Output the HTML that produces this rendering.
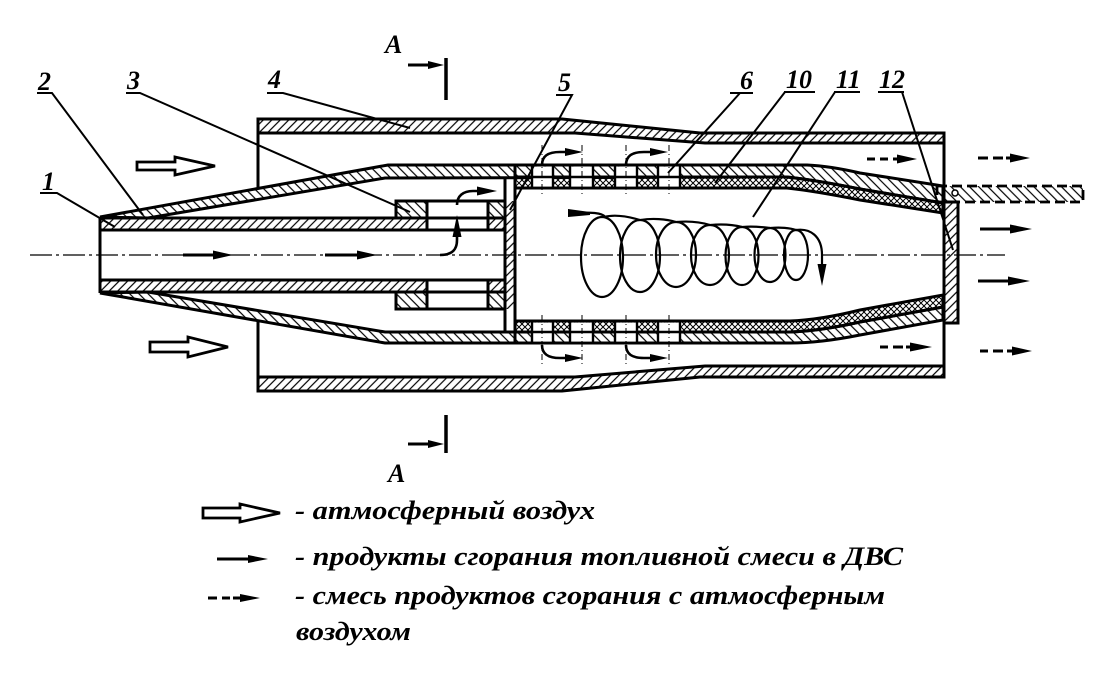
<!DOCTYPE html>
<html><head><meta charset="utf-8"><style>
html,body{margin:0;padding:0;background:#fff;}
svg{display:block}
text{font-family:"Liberation Serif","DejaVu Serif",serif;font-weight:bold;font-style:italic;fill:#000}
</style></head><body>
<svg width="1110" height="684" viewBox="0 0 1110 684" xmlns="http://www.w3.org/2000/svg">
<defs>
<pattern id="hf" patternUnits="userSpaceOnUse" width="6" height="6" patternTransform="rotate(45)"><line x1="1" y1="-1" x2="1" y2="7" stroke="#000" stroke-width="1.2"/></pattern>
<pattern id="hb" patternUnits="userSpaceOnUse" width="6.5" height="6.5" patternTransform="rotate(-45)"><line x1="1" y1="-1" x2="1" y2="8" stroke="#000" stroke-width="1.2"/></pattern>
<pattern id="cx" patternUnits="userSpaceOnUse" width="6" height="6"><path d="M0,0 L6,6 M6,0 L0,6" stroke="#000" stroke-width="1"/></pattern>
</defs>
<rect width="1110" height="684" fill="#fff"/>

<!-- axis -->
<line x1="30" y1="255" x2="1005" y2="255" stroke="#000" stroke-width="1.2" stroke-dasharray="22 4 3 4"/>

<!-- outer casing 4 -->
<path d="M258,119 L562,119 L700,133 L944,133 L944,143 L705,143 L575,133 L258,133 Z" fill="url(#hf)" stroke="#000" stroke-width="3"/>
<path d="M258,377 L575,377 L705,366 L944,366 L944,377 L700,377 L562,391 L258,391 Z" fill="url(#hf)" stroke="#000" stroke-width="3"/>
<line x1="258" y1="133" x2="258" y2="188" stroke="#000" stroke-width="3"/>
<line x1="258" y1="320" x2="258" y2="377" stroke="#000" stroke-width="3"/>

<!-- cone 2 + layer 6 -->
<path d="M100,217 L388,165 L807,165 Q830,166 860,173 L943,186 L943,203 L860,189 Q815,180 787,177 L385,178 L148,218 Z" fill="url(#hb)" stroke="#000" stroke-width="3"/>
<path d="M100,293 L385,343 L790,343 Q820,343 860,335 L943,320 L943,307 L860,322 Q820,331 790,332 L385,332 L148,292 Z" fill="url(#hb)" stroke="#000" stroke-width="3"/>
<!-- layer 10 crosshatch -->
<path d="M515,177 L787,177 Q815,180 860,189 L943,203 L943,213 L860,200 Q815,191 787,188 L515,188 Z" fill="url(#cx)" stroke="#000" stroke-width="3"/>
<path d="M515,321 L790,321 Q820,320 860,310 L943,295 L943,307 L860,322 Q820,331 790,332 L515,332 Z" fill="url(#cx)" stroke="#000" stroke-width="3"/>

<!-- holes -->
<g fill="#fff">
<rect x="532" y="166.6" width="21" height="20"/><rect x="570" y="166.6" width="23" height="20"/>
<rect x="615" y="166.6" width="22" height="20"/><rect x="658" y="166.6" width="22" height="20"/>
<rect x="532" y="322.6" width="21" height="19"/><rect x="570" y="322.6" width="23" height="19"/>
<rect x="615" y="322.6" width="22" height="19"/><rect x="658" y="322.6" width="22" height="19"/>
</g>
<g stroke="#000" stroke-width="2.4">
<line x1="515" y1="177" x2="690" y2="177"/><line x1="515" y1="332" x2="690" y2="332"/>
<path d="M532,165V188M553,165V188M570,165V188M593,165V188M615,165V188M637,165V188M658,165V188M680,165V188"/>
<path d="M532,321V343M553,321V343M570,321V343M593,321V343M615,321V343M637,321V343M658,321V343M680,321V343"/>
</g>
<g stroke="#000" stroke-width="1" stroke-dasharray="6 3 1 3">
<path d="M542,145V195M582,145V195M626,145V195M669,145V195"/>
<path d="M542,315V365M582,315V365M626,315V365M669,315V365"/>
</g>

<!-- tube 1 -->
<rect x="100" y="218" width="327" height="12" fill="url(#hf)"/>
<rect x="488" y="218" width="17" height="12" fill="url(#hf)"/>
<rect x="100" y="280" width="327" height="12" fill="url(#hf)"/>
<rect x="488" y="280" width="17" height="12" fill="url(#hf)"/>
<g stroke="#000" stroke-width="3" fill="none">
<line x1="100" y1="218" x2="505" y2="218"/><line x1="100" y1="230" x2="505" y2="230"/>
<line x1="100" y1="280" x2="505" y2="280"/><line x1="100" y1="292" x2="505" y2="292"/>
<line x1="100" y1="217" x2="100" y2="293"/>
<line x1="505" y1="230" x2="505" y2="280"/>
</g>
<!-- ring 3 -->
<rect x="396" y="201" width="31" height="17" fill="url(#hb)"/>
<rect x="488" y="201" width="17" height="17" fill="url(#hb)"/>
<rect x="396" y="292" width="31" height="17" fill="url(#hb)"/>
<rect x="488" y="292" width="17" height="17" fill="url(#hb)"/>
<g stroke="#000" stroke-width="3" fill="none">
<rect x="396" y="201" width="109" height="17"/>
<rect x="396" y="292" width="109" height="17"/>
<path d="M427,201V230M488,201V230M427,280V309M488,280V309"/>
</g>
<!-- part 5 -->
<rect x="505" y="201" width="10" height="108" fill="url(#hf)"/>
<g stroke="#000" stroke-width="3">
<line x1="505" y1="178" x2="505" y2="332"/>
<line x1="515" y1="165" x2="515" y2="343"/>
</g>

<!-- part 12 plate and end -->
<rect x="944" y="202" width="14" height="121" fill="url(#hf)" stroke="#000" stroke-width="3"/>
<line x1="944" y1="133" x2="944" y2="377" stroke="#000" stroke-width="3"/>
<rect x="937" y="186" width="146" height="16" fill="url(#hb)" stroke="#000" stroke-width="2.8" stroke-dasharray="10 5"/>
<circle cx="955" cy="193" r="3" fill="#fff" stroke="#000" stroke-width="1.5"/>

<!-- hollow air arrows -->
<g fill="#fff" stroke="#000" stroke-width="2.8">
<path d="M137,162 L175,162 L175,157 L215,166 L175,175 L175,170 L137,170 Z"/>
<path d="M150,342 L188,342 L188,337 L228,347 L188,357 L188,352 L150,352 Z"/>
<path d="M203,508 L240,508 L240,504 L280,513 L240,522 L240,518 L203,518 Z"/>
</g>

<!-- solid arrows -->
<g stroke="#000" stroke-width="3" fill="none">
<line x1="183" y1="255" x2="215" y2="255"/>
<line x1="325" y1="255" x2="359" y2="255"/>
<line x1="980" y1="229" x2="1012" y2="229"/>
<line x1="978" y1="281" x2="1010" y2="281"/>
<line x1="217" y1="559" x2="250" y2="559"/>
</g>
<g fill="#000">
<path d="M213,250.5 L233,255 L213,259.5 Z"/>
<path d="M357,250.5 L377,255 L357,259.5 Z"/>
<path d="M1010,224.5 L1032,229 L1010,233.5 Z"/>
<path d="M1008,276.5 L1030,281 L1008,285.5 Z"/>
<path d="M248,555 L268,559 L248,563 Z"/>
</g>

<!-- dashed arrows -->
<g stroke="#000" stroke-width="3">
<path d="M867,159H875M880,159H888M893,159H900"/>
<path d="M978,158H988M993,158H1003M1006,158H1012"/>
<path d="M880,347H888M893,347H903M906,347H912"/>
<path d="M980,351H988M993,351H1003M1007,351H1014"/>
<path d="M208,598H217M222,598H230M233,598H243"/>
</g>
<g fill="#000">
<path d="M897,154.5 L917,159 L897,163.5 Z"/>
<path d="M1010,153.5 L1030,158 L1010,162.5 Z"/>
<path d="M910,342.5 L932,347 L910,351.5 Z"/>
<path d="M1012,346.5 L1032,351 L1012,355.5 Z"/>
<path d="M240,594 L260,598 L240,602 Z"/>
</g>

<!-- curved arrows -->
<g stroke="#000" stroke-width="2.6" fill="none">
<path d="M542,165 C542,156 548,152 560,152 L568,152"/>
<path d="M626,165 C626,156 632,152 644,152 L652,152"/>
<path d="M542,345 C542,354 548,358 560,358 L568,358"/>
<path d="M626,345 C626,354 632,358 644,358 L652,358"/>
<path d="M440,255 C452,255 457,250 457,240 L457,236"/>
<path d="M457,205 C457,196 463,191 473,191 L479,191"/>
</g>
<g fill="#000">
<path d="M565,148 L583,152 L565,156 Z"/>
<path d="M650,148 L668,152 L650,156 Z"/>
<path d="M565,354 L583,358 L565,362 Z"/>
<path d="M650,354 L668,358 L650,362 Z"/>
<path d="M452.5,237 L457,215 L461.5,237 Z"/>
<path d="M477,186.5 L497,191 L477,195.5 Z"/>
</g>

<!-- spiral 11 -->
<g stroke="#000" stroke-width="2.2" fill="none">
<ellipse cx="602" cy="257" rx="21" ry="40"/>
<ellipse cx="640" cy="256" rx="20" ry="36"/>
<ellipse cx="676" cy="254.5" rx="20" ry="32.5"/>
<ellipse cx="710" cy="255" rx="19" ry="30"/>
<ellipse cx="742" cy="256" rx="16.5" ry="29"/>
<ellipse cx="770" cy="255" rx="15.5" ry="27"/>
<ellipse cx="796" cy="255" rx="12" ry="25"/>
<path d="M604,217 C615,214 630,217 640,220"/>
<path d="M641,220 C652,218 666,219 676,222"/>
<path d="M677,222 C688,221 700,222 710,225"/>
<path d="M711,225 C722,224 734,225 742,227"/>
<path d="M743,227 C752,226 762,227 770,228"/>
<path d="M771,228 C780,227 790,228 796,230"/>
<path d="M584,213 C596,212 604,214 606,218"/>
<path d="M796,230 C810,228 822,236 822,255 L822,268"/>
</g>
<path d="M568,209 L590,212 L590,215 L568,217 Z" fill="#000"/>
<path d="M817.5,264 L826.5,264 L822,286 Z" fill="#000"/>

<!-- leaders -->
<g stroke="#000" stroke-width="2" fill="none">
<path d="M40,193H57L115,227"/>
<path d="M37,93H52L143,215"/>
<path d="M126,93H140L410,212"/>
<path d="M267,93H283L410,128"/>
<path d="M556,95H572L510,210"/>
<path d="M730,93H753M740,93L668,173"/>
<path d="M784,92H815M785,92L715,183"/>
<path d="M834,92H860M835,92L753,217"/>
<path d="M878,92H904M902,92L953,250"/>
</g>
<g font-size="26">
<text x="42" y="190">1</text>
<text x="38" y="90">2</text>
<text x="127" y="89">3</text>
<text x="268" y="88">4</text>
<text x="558" y="91">5</text>
<text x="740" y="89">6</text>
<text x="786" y="88">10</text>
<text x="836" y="88">11</text>
<text x="879" y="88">12</text>
</g>

<!-- section A markers -->
<text x="385" y="53" font-size="26">A</text>
<line x1="408" y1="65" x2="432" y2="65" stroke="#000" stroke-width="3"/>
<path d="M428,61 L444,65 L428,69 Z" fill="#000"/>
<line x1="446" y1="58" x2="446" y2="100" stroke="#000" stroke-width="3.5"/>
<line x1="446" y1="415" x2="446" y2="453" stroke="#000" stroke-width="3.5"/>
<line x1="408" y1="444" x2="432" y2="444" stroke="#000" stroke-width="3"/>
<path d="M428,440 L444,444 L428,448 Z" fill="#000"/>
<text x="388" y="482" font-size="26">A</text>

<!-- legend -->
<g font-size="26">
<text x="295" y="519" textLength="300" lengthAdjust="spacingAndGlyphs">- атмосферный воздух</text>
<text x="295" y="565" textLength="608" lengthAdjust="spacingAndGlyphs">- продукты сгорания топливной смеси в ДВС</text>
<text x="295" y="604" textLength="590" lengthAdjust="spacingAndGlyphs">- смесь продуктов сгорания с атмосферным</text>
<text x="296" y="640" textLength="115" lengthAdjust="spacingAndGlyphs">воздухом</text>
</g>
</svg>
</body></html>
